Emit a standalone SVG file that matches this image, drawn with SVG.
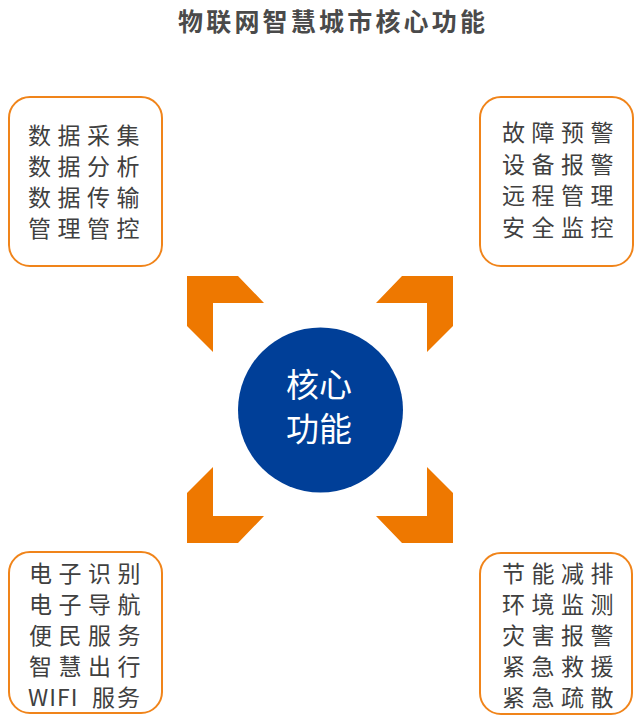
<svg xmlns="http://www.w3.org/2000/svg" width="640" height="725" viewBox="0 0 640 725">
<style>
.box{fill:#fff;stroke:#F0841A;stroke-width:2}
.t{font-family:"Noto Sans CJK SC","Noto Sans",sans-serif;font-size:23px;letter-spacing:6.5px;fill:#404040}
.br{fill:#EE7800}
.title{font-family:"Noto Sans CJK SC","Noto Sans",sans-serif;font-size:25px;font-weight:bold;letter-spacing:3.2px;fill:#4a4a4a}
.ct{font-family:"Noto Sans CJK SC","Noto Sans",sans-serif;font-size:33px;fill:#fff;text-anchor:middle}
</style>
<rect width="640" height="725" fill="#fff"/>
<text class="title" x="178" y="31">物联网智慧城市核心功能</text>
<g id="connectors">
<polygon class="br" points="187,276 238,276 264,303 213,303 213,352 187,326"/>
<polygon class="br" points="453,276 402,276 376,303 427,303 427,352 453,326"/>
<polygon class="br" points="187,543 238,543 264,516 213,516 213,467 187,493"/>
<polygon class="br" points="453,543 402,543 376,516 427,516 427,467 453,493"/>
</g>
<g id="center">
<circle cx="320.5" cy="410" r="82.5" fill="#003F98"/>
<text class="ct" x="319" y="397">核心</text>
<text class="ct" x="319" y="441">功能</text>
</g>
<g id="data">
<rect class="box" x="9" y="97" width="153" height="169" rx="21"/>
<text class="t" x="28" y="144">数据采集</text>
<text class="t" x="28" y="175">数据分析</text>
<text class="t" x="28" y="206">数据传输</text>
<text class="t" x="28" y="237">管理管控</text>
</g>
<g id="alarm">
<rect class="box" x="480" y="97" width="153" height="169" rx="21"/>
<text class="t" x="502" y="141">故障预警</text>
<text class="t" x="502" y="172.5">设备报警</text>
<text class="t" x="502" y="204">远程管理</text>
<text class="t" x="502" y="236">安全监控</text>
</g>
<g id="service">
<rect class="box" x="9" y="552" width="153" height="161" rx="21"/>
<text class="t" x="29" y="582">电子识别</text>
<text class="t" x="29" y="613">电子导航</text>
<text class="t" x="29" y="644">便民服务</text>
<text class="t" x="29" y="675">智慧出行</text>
<text class="t" x="28" y="706" style="letter-spacing:1px">WIFI</text>
<text class="t" x="92" y="706" style="letter-spacing:2px">服务</text>
</g>
<g id="env">
<rect class="box" x="480" y="553" width="152" height="161" rx="21"/>
<text class="t" x="502" y="582">节能减排</text>
<text class="t" x="502" y="613">环境监测</text>
<text class="t" x="502" y="644">灾害报警</text>
<text class="t" x="502" y="675">紧急救援</text>
<text class="t" x="502" y="706">紧急疏散</text>
</g>
</svg>
